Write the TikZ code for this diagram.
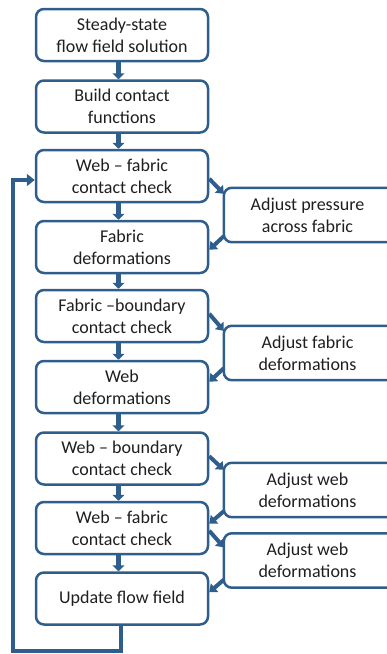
\documentclass[tikz,border=0pt]{standalone}
\usepackage{fontspec}
\setmainfont{Carlito}
\usetikzlibrary{arrows.meta,calc}
\definecolor{flowblue}{RGB}{47,93,140}
\begin{document}
\begin{tikzpicture}[x=1pt,y=-1pt,
  frame/.style={draw=flowblue, line width=2.5pt, rounded corners=8pt},
  box/.style={align=center, font=\fontsize{18}{22}\selectfont, text=black!88, inner sep=0pt},
  lbox/.style={box, frame, fill=white, minimum width=172pt, minimum height=52pt},
  rbox/.style={box, minimum width=167pt, minimum height=54pt},
  down/.style={flowblue, line width=5.5pt, -{Triangle[width=12pt,length=6pt]}},
  side/.style={flowblue, line width=4pt, -{Triangle[width=11pt,length=7pt]}},
  loopback/.style={flowblue, line width=4pt, -{Triangle[width=12pt,length=8pt]}},
]
\useasboundingbox (0,0) rectangle (387,654);
\clip (0,0) rectangle (387,654);

% main column
\node[lbox] (b1) at (122,35)    {Steady-state\\flow field solution};
\node[lbox] (b2) at (122,106.5) {Build contact\\functions};
\node[lbox] (b3) at (122,176)   {Web -- fabric\\contact check};
\node[lbox] (b4) at (122,247)   {Fabric\\deformations};
\node[lbox] (b5) at (122,316)   {Fabric --boundary\\contact check};
\node[lbox] (b6) at (122,387)   {Web\\deformations};
\node[lbox] (b7) at (122,458.5) {Web -- boundary\\contact check};
\node[lbox] (b8) at (122,528)   {Web -- fabric\\contact check};
\node[lbox] (b9) at (122,598.5) {Update flow field};

% correction steps on the right (frames run on past the right edge)
\node[rbox] (pA) at (307.5,215)   {Adjust pressure\\across fabric};
\node[rbox] (pB) at (307.5,353)   {Adjust fabric\\deformations};
\node[rbox] (pC) at (307.5,490)   {Adjust web\\deformations};
\node[rbox] (pD) at (307.5,560.5) {Adjust web\\deformations};
\foreach \p in {pA,pB,pC,pD}
  \draw[frame] (\p.north west) rectangle ($(\p.south east)+(25,0)$);

% downward flow
\foreach \a/\b in {b1/b2,b2/b3,b3/b4,b4/b5,b5/b6,b6/b7,b7/b8,b8/b9}
  \draw[down] ($(\a.south)+(-3.5,0)$) -- ($(\b.north)+(-3.5,0)$);

% side branches
\draw[side] ($(b3.north east)+(0,30)$) -- ($(pA.north west)+(0,6)$);
\draw[side] ($(pA.south west)+(0,-6)$) -- ($(b4.north east)+(0,30)$);
\draw[side] ($(b5.north east)+(0,25)$) -- ($(pB.north west)+(0,5)$);
\draw[side] ($(pB.south west)+(0,-12)$) -- ($(b6.north east)+(0,22)$);
\draw[side] ($(b7.north east)+(0,25)$) -- ($(pC.north west)+(0,7)$);
\draw[side] ($(pC.south west)+(0,-6)$) -- ($(b8.north east)+(0,23)$);
\draw[side] ($(b8.north east)+(0,30)$) -- ($(pD.north west)+(0,14)$);
\draw[side] ($(pD.south west)+(0,-8)$) -- ($(b9.north east)+(0,21)$);

% loop back to the first contact check
\draw[loopback] ($(b9.south)+(-1,0)$) |- (12.5,651) |- ($(b3.west)+(0,4)$);
\end{tikzpicture}
\end{document}
